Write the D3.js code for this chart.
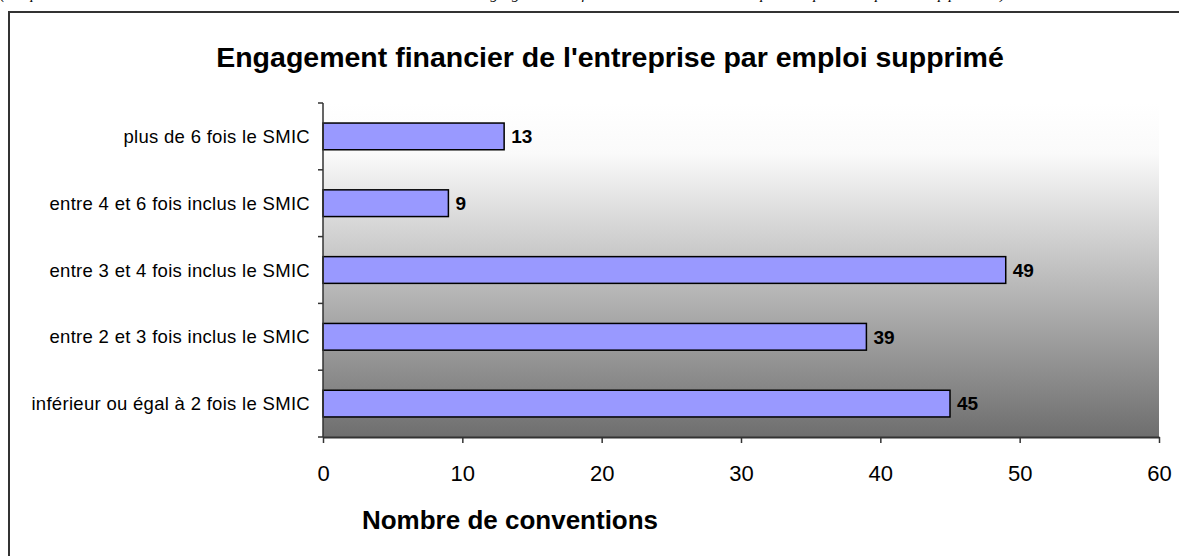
<!DOCTYPE html>
<html>
<head>
<meta charset="utf-8">
<script src="https://cdn.jsdelivr.net/npm/d3@7"></script>
<style>
  body { margin: 0; background: #fff; }
  svg { display: block; font-family: "Liberation Sans", Arial, sans-serif; }
</style>
</head>
<body>
<div class="chart"></div>
<script>
// Data
const categories = [
  "plus de 6 fois le SMIC",
  "entre 4 et 6 fois inclus le SMIC",
  "entre 3 et 4 fois inclus le SMIC",
  "entre 2 et 3 fois inclus le SMIC",
  "inférieur ou égal à 2 fois le SMIC"
];
const values = [13, 9, 49, 39, 45];
const xTicks = [0, 10, 20, 30, 40, 50, 60];
const title = "Engagement financier de l'entreprise par emploi supprimé";
const xTitle = "Nombre de conventions";
const caption = "(Répartition des conventions selon le montant de l'engagement financier de l'entreprise par emploi supprimé)";

const W = 1179, H = 556;
const M = { left: 323, right: 1159, top: 103, bottom: 437 };

const svg = d3.select(".chart").append("svg").attr("width", W).attr("height", H);

// cut-off caption from the page above (only its descenders show)
svg.append("text")
  .attr("x", 0).attr("y", -1)
  .attr("font-family", "'Liberation Serif', 'Times New Roman', serif")
  .attr("font-style", "italic")
  .attr("font-size", 15)
  .attr("textLength", 1005)
  .attr("lengthAdjust", "spacing")
  .text(caption);

// chart frame
svg.append("rect")
  .attr("x", 9).attr("y", 12)
  .attr("width", W + 20).attr("height", H + 20)
  .attr("fill", "#fff")
  .attr("stroke", "#333")
  .attr("stroke-width", 2);

// plot background gradient
const grad = svg.append("defs").append("linearGradient")
  .attr("id", "bg").attr("x1", 0).attr("y1", 0).attr("x2", 0).attr("y2", 1);
grad.append("stop").attr("offset", "0%").attr("stop-color", "#ffffff");
grad.append("stop").attr("offset", "15%").attr("stop-color", "#fafafa");
grad.append("stop").attr("offset", "100%").attr("stop-color", "#6e6e6e");

svg.append("rect")
  .attr("x", M.left).attr("y", M.top)
  .attr("width", M.right - M.left).attr("height", M.bottom - M.top)
  .attr("fill", "url(#bg)");

// Scales
const x = d3.scaleLinear().domain([0, 60]).range([M.left, M.right]);
const y = d3.scaleBand().domain(categories).range([M.top, M.bottom]).paddingInner(0.6).paddingOuter(0.3);

// Bars
svg.selectAll(".bar")
  .data(values)
  .join("rect")
  .attr("class", "bar")
  .attr("x", x(0))
  .attr("y", (d, i) => y(categories[i]))
  .attr("width", d => x(d) - x(0))
  .attr("height", y.bandwidth())
  .attr("fill", "#9999ff")
  .attr("stroke", "#000")
  .attr("stroke-width", 1.5);

// Value labels
svg.selectAll(".val")
  .data(values)
  .join("text")
  .attr("class", "val")
  .attr("x", d => x(d) + 7)
  .attr("y", (d, i) => y(categories[i]) + y.bandwidth() / 2)
  .attr("dy", "0.36em")
  .attr("font-size", 19)
  .attr("font-weight", "bold")
  .text(d => d);

// Y axis: line, ticks between categories, labels
const bandStep = (M.bottom - M.top) / categories.length;
const yAxis = svg.append("g");
yAxis.append("line")
  .attr("x1", M.left).attr("x2", M.left)
  .attr("y1", M.top).attr("y2", M.bottom)
  .attr("stroke", "#333").attr("stroke-width", 1.5);
yAxis.selectAll(".ytick")
  .data(d3.range(categories.length + 1))
  .join("line")
  .attr("x1", M.left - 5).attr("x2", M.left)
  .attr("y1", i => M.top + i * bandStep).attr("y2", i => M.top + i * bandStep)
  .attr("stroke", "#333").attr("stroke-width", 1.5);
yAxis.selectAll(".ylab")
  .data(categories)
  .join("text")
  .attr("x", M.left - 13)
  .attr("y", d => y(d) + y.bandwidth() / 2)
  .attr("dy", "0.36em")
  .attr("text-anchor", "end")
  .attr("font-size", 18.5)
  .attr("letter-spacing", 0.3)
  .text(d => d);

// X axis
const xAxis = svg.append("g")
  .attr("transform", `translate(0, ${M.bottom})`)
  .call(d3.axisBottom(x).tickValues(xTicks).tickSize(6).tickSizeOuter(0).tickPadding(22));
xAxis.select(".domain").attr("stroke", "#333").attr("stroke-width", 2);
xAxis.selectAll(".tick line").attr("stroke", "#333").attr("stroke-width", 1.5);
xAxis.selectAll(".tick text")
  .attr("font-family", "'Liberation Sans', Arial, sans-serif")
  .attr("font-size", 22)
  .attr("fill", "#000");

// Titles
svg.append("text")
  .attr("x", 610).attr("y", 67)
  .attr("text-anchor", "middle")
  .attr("font-size", 28.5)
  .attr("font-weight", "bold")
  .text(title);

svg.append("text")
  .attr("x", 510).attr("y", 529)
  .attr("text-anchor", "middle")
  .attr("font-size", 26)
  .attr("font-weight", "bold")
  .text(xTitle);
</script>
</body>
</html>
